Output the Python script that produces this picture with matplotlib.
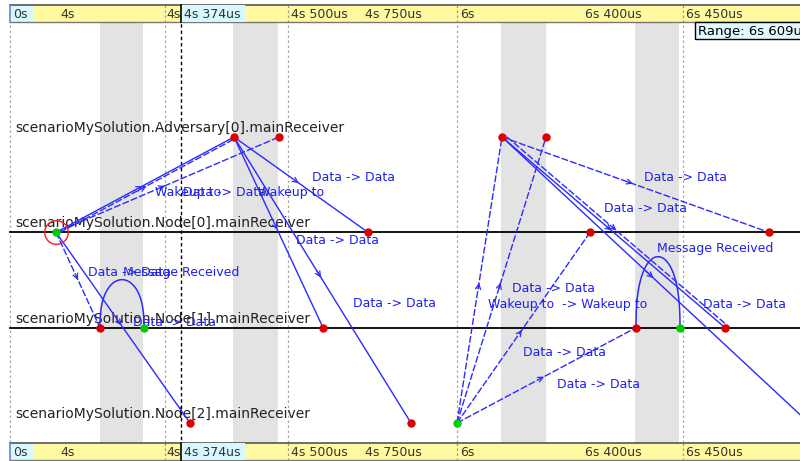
import numpy as np
import matplotlib
matplotlib.use('Agg')
import matplotlib.pyplot as plt
from matplotlib.patches import Rectangle

plt.rcParams['font.family'] = ['DejaVu Sans']

# axes of the sequence chart
axis_names = ['scenarioMySolution.Adversary[0].mainReceiver',
              'scenarioMySolution.Node[0].mainReceiver',
              'scenarioMySolution.Node[1].mainReceiver',
              'scenarioMySolution.Node[2].mainReceiver']

# events: row (axis index) and timeline position
ev_row = [1, 0, 0, 1, 2, 2, 2, 3, 3, 3, 0, 0, 1, 1, 2, 2, 2, 3]
ev_x = [56, 234, 279, 368, 100, 144, 323, 190, 411, 457, 502, 546, 590, 769, 636, 680, 725, 809]
ev_green = [0, 5, 9, 15]

# messages between events
msg_src = [0, 0, 0, 1, 1, 1, 0, 0, 9, 9, 9, 9, 10, 10, 10, 10]
msg_dst = [1, 2, 1, 3, 6, 8, 4, 7, 10, 11, 12, 14, 13, 16, 16, 17]
msg_dash = [False, True, True, False, False, False, True, False, True, True, True, True, True, False, True, False]

# self messages (start event, end event)
self_src = [4, 14]
self_dst = [5, 15]

msg_labels = ['Wakeup to', 'Data -> Data', 'Wakeup to', 'Data -> Data', 'Data -> Data',
              'Data -> Data', 'Data -> Data', 'Message Received', 'Data -> Data',
              'Data -> Data', 'Wakeup to  -> Wakeup to', 'Data -> Data', 'Data -> Data',
              'Data -> Data', 'Data -> Data', 'Message Received', 'Data -> Data']

# timeline ticks
tick_labels = ['0s', '4s', '4s', '4s 374us', '4s 500us', '4s 750us', '6s', '6s 400us', '6s 450us']
tick_x = [13, 60, 166, 184, 291, 365, 460, 585, 686]
grid_x = [10, 165, 288, 457, 683]
band_x0 = [100, 233, 501, 635]
band_x1 = [143, 278, 546, 679]
cursor_x = 181
range_text = 'Range: 6s 609us'

# ---- layout (screen pixels) ----
W, H = 800, 461
ROW0, STEP = 137, 95.33
def ry(p):
    # pixel y -> row units
    return (p - ROW0) / STEP

label_pos = [(155, 192), (183, 192), (258, 192), (312, 177), (296, 240), (353, 303),
             (88, 272), (123, 272), (133, 322), (512, 288), (488, 304), (523, 352),
             (557, 384), (644, 177), (604, 208), (657, 248), (703, 304)]
self_h = [48, 71]
offset_px = {2: 4, 14: 5}

blue = '#2b2bff'
lblue = '#2020ee'
red = '#dd0000'
green = '#00cc00'

fig = plt.figure(figsize=(8, 4.61), dpi=100)
ax = fig.add_axes([0, 0, 1, 1])
ax.set_xlim(0, W)
ax.set_ylim(ry(H), ry(0))
ax.axis('off')

# gray bands
for a, b in zip(band_x0, band_x1):
    ax.add_patch(Rectangle((a, ry(22)), b - a, ry(443) - ry(22), color='#e3e3e3', lw=0, zorder=0))

# grid lines
for gx in grid_x:
    ax.plot([gx, gx], [ry(5), ry(461)], color='#a8a8a8', lw=0.9, ls=(0, (2, 2)), zorder=1)
ax.plot([cursor_x, cursor_x], [ry(5), ry(461)], color='black', lw=1.0, ls=(0, (2.5, 2)), zorder=1)

# axis lines and names
for i, name in enumerate(axis_names):
    if i in (1, 2):
        ax.plot([10, W], [i, i], color='black', lw=1.3, zorder=2)
    ax.text(15, i - ry(ROW0 + 9), name, fontsize=10, color='#222222', va='center', ha='left', zorder=3)

# messages
for k, (s, d, dash) in enumerate(zip(msg_src, msg_dst, msg_dash)):
    x0, y0 = ev_x[s], ev_row[s]
    x1, y1 = ev_x[d], ev_row[d]
    off = offset_px.get(k, 0)
    x0b, x1b = x0 + off, x1 + off
    ls = (0, (5, 1.5)) if dash else '-'
    ax.plot([x0b, x1b], [y0, y1], color=blue, lw=1.0, ls=ls, zorder=4)
    mx, my = (x0b + x1b) / 2, (y0 + y1) / 2
    bx, by = x0b + (x1b - x0b) * 0.46, y0 + (y1 - y0) * 0.46
    ax.annotate('', xy=(mx, my), xytext=(bx, by),
                arrowprops=dict(arrowstyle='->', color=blue, lw=0.9, mutation_scale=9), zorder=4)

# self messages
t = np.linspace(0, np.pi, 60)
for s, d, h in zip(self_src, self_dst, self_h):
    cx = (ev_x[s] + ev_x[d]) / 2
    a = (ev_x[d] - ev_x[s]) / 2
    ax.plot(cx - a * np.cos(t), ev_row[s] - (h / STEP) * np.sin(t) ** 0.8, color=blue, lw=1.1, zorder=4)

# labels
for txt, (lx, ly) in zip(msg_labels, label_pos):
    ax.text(lx, ry(ly), txt, fontsize=9, color=lblue, va='center', ha='left', zorder=5)

# events
for i, (x, r) in enumerate(zip(ev_x, ev_row)):
    c = green if i in ev_green else red
    ax.plot(x, r, 'o', ms=5, color=c, mec=c, zorder=6)
ax.plot(ev_x[0], ev_row[0], 'o', ms=17, mfc='none', mec='#ee2222', mew=1.0, zorder=6)

# time bars on top and bottom
for top, bot in [(5, 22), (443, 460)]:
    ax.add_patch(Rectangle((10, ry(top)), W - 10, ry(bot) - ry(top), facecolor='#fffaa0',
                           edgecolor='none', zorder=7))
    ax.add_patch(Rectangle((10, ry(top)), 23, ry(bot) - ry(top), facecolor='#d8f8ff',
                           edgecolor='none', zorder=7))
    ax.plot([10, W], [ry(top), ry(top)], color='#555555', lw=1.2, zorder=9)
    ax.plot([10, W], [ry(bot), ry(bot)], color='#777777', lw=1.0, zorder=9)
    ax.plot([10, 10], [ry(top), ry(bot)], color='#6688cc', lw=1.2, zorder=9)
    for gx in grid_x[1:]:
        ax.plot([gx, gx], [ry(top), ry(bot)], color='#999999', lw=0.9, ls=(0, (2, 2)), zorder=8)
    for lab, tx in zip(tick_labels, tick_x):
        z = 10 if tx >= cursor_x else 8
        ax.text(tx, ry((top + bot) / 2 + 1), lab, fontsize=9, color='#333333', va='center',
                ha='left', zorder=z)
    ax.add_patch(Rectangle((cursor_x, ry(top)), 64, ry(bot) - ry(top), facecolor='#d8f8ff',
                           edgecolor='none', zorder=9))
    ax.plot([cursor_x, cursor_x], [ry(top), ry(bot)], color='black', lw=1.2, zorder=10)

# range box
ax.add_patch(Rectangle((695, ry(22)), 110, ry(39) - ry(22), facecolor='#e2f8ff',
                       edgecolor='black', lw=1.0, zorder=11, clip_on=True))
ax.text(698, ry(31), range_text, fontsize=9.5, color='black', va='center', ha='left', zorder=12)

fig.savefig('out.png', dpi=100)
